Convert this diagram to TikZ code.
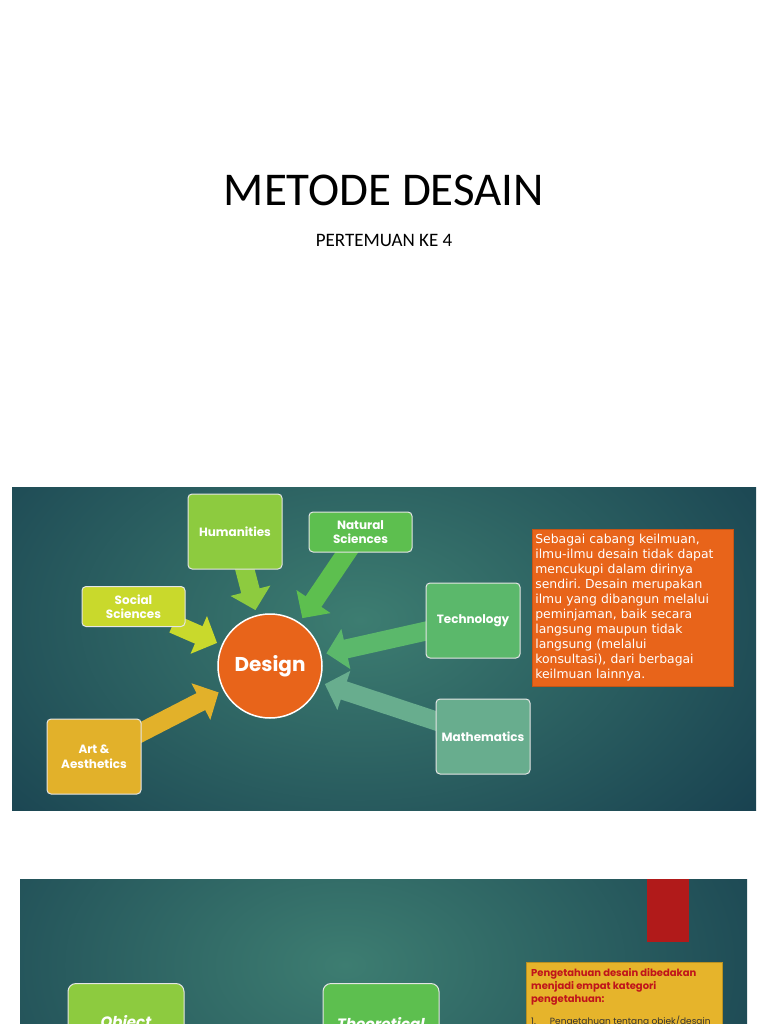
\documentclass[tikz,border=0pt]{standalone}
\usepackage{fontspec}
\setmainfont{Carlito}
\newfontfamily\labelfont{Poppins}
\newfontfamily\notefont{DejaVu Sans}
\usetikzlibrary{positioning}
\usetikzlibrary{arrows.meta}
\frenchspacing

\definecolor{slidedark}{HTML}{143A4C}
\definecolor{slidelight}{HTML}{3D7D71}
\definecolor{humgreen}{HTML}{8DCB3F}
\definecolor{natgreen}{HTML}{5DBF4F}
\definecolor{socyellow}{HTML}{C9D92C}
\definecolor{techgreen}{HTML}{5BB86B}
\definecolor{mathgreen}{HTML}{68AD8E}
\definecolor{artgold}{HTML}{E2B12A}
\definecolor{designorange}{HTML}{E8641A}
\definecolor{tabred}{HTML}{B11A1A}
\definecolor{kindred}{HTML}{C0141B}
\definecolor{kindgold}{HTML}{E6B42B}

\pgfdeclarelayer{back}
\pgfsetlayers{back,main}

\tikzset{
  field/.style = {rectangle, rounded corners=4pt, draw=white!80!gray, line width=1pt, minimum width=94pt, minimum height=75pt, inner sep=2pt, text=white, align=center, font=\labelfont\bfseries\fontsize{12}{14.5}\selectfont},
  flatfield/.style = {field, minimum width=103pt, minimum height=40pt},
  bigfield/.style = {field, rounded corners=8pt, minimum width=116pt, minimum height=80pt, font=\labelfont\bfseries\itshape\fontsize{15}{17}\selectfont},
  core/.style = {circle, draw=white, line width=1.5pt, fill=designorange, minimum size=104pt, inner sep=0pt, text=white, font=\labelfont\bfseries\fontsize{20}{22}\selectfont},
  note/.style = {rectangle, fill=designorange, draw=designorange!85!black, line width=0.6pt, minimum width=201pt, minimum height=157pt, text width=195pt, inner sep=3pt, align=left, text=white, font=\notefont\fontsize{12.4}{15}\selectfont},
  feed/.style = {line width=19pt, -{Triangle[length=20pt, width=40pt]}, shorten >=5pt, shorten <=-8pt},
}

% block arrow from a field into the design circle
\newcommand{\feed}[3]{\begin{pgfonlayer}{back}\draw[feed, #1] (#2) -- (#3) ;\end{pgfonlayer}}

\begin{document}
\begin{tikzpicture}[x=1pt, y=-1pt]

    \useasboundingbox (0,0) rectangle (768,1024) ; %

    % page and slide backgrounds
    \begin{pgfonlayer}{back}
    \fill[white] (0,0) rectangle (768,1024) ; %
    \begin{scope}
      \clip (12,487) rectangle (756,810) ; %
      \shade[inner color=slidelight, outer color=slidedark] (360,620) ellipse (560pt and 360pt) ; %
    \end{scope}
    \begin{scope}
      \clip (20,879) rectangle (747,1024) ; %
      \shade[inner color=slidelight, outer color=slidedark] (345,965) ellipse (560pt and 360pt) ; %
    \end{scope}
    \end{pgfonlayer}

    \node[font=\fontsize{47}{52}\selectfont] (title) at (384,190) {METODE DESAIN} ; %
    \node[font=\fontsize{19}{21}\selectfont] (subtitle) at (384,240) {PERTEMUAN KE 4} ; %

    \node[core] (design) at (270,666) {Design} ; %
    \node[field, fill=humgreen] (humanities) at (235,531.5) {Humanities} ; %
    \node[flatfield, fill=natgreen] (natural) at (360.5,532) {Natural\\Sciences} ; %
    \node[flatfield, fill=socyellow] (social) at (133.5,606.5) {Social\\Sciences} ; %
    \node[field, fill=techgreen] (technology) at (473,620.5) {Technology} ; %
    \node[field, fill=mathgreen] (mathematics) at (483,736.5) {Mathematics} ; %
    \node[field, fill=artgold] (art) at (94,756.5) {Art \&\\Aesthetics} ; %

    \node[note, anchor=north west] (note) at (532,529) {Sebagai cabang keilmuan,\\ilmu-ilmu desain tidak dapat\\mencukupi dalam dirinya\\sendiri. Desain merupakan\\ilmu yang dibangun melalui\\peminjaman, baik secara\\langsung maupun tidak\\langsung (melalui\\konsultasi), dari berbagai\\keilmuan lainnya.} ; %

    \feed{humgreen}{humanities}{design} ; %
    \feed{natgreen}{natural}{design} ; %
    \feed{socyellow}{social}{design} ; %
    \feed{techgreen}{technology}{design} ; %
    \feed{mathgreen}{mathematics}{design} ; %
    \feed{artgold}{art}{design} ; %

    % second slide, cut by the page edge
    \begin{scope}
      \clip (20,879) rectangle (747,1024) ; %
      \node[fill=tabred, minimum width=42pt, minimum height=63pt, anchor=north west] (tab) at (647,879) {} ; %
      \node[bigfield, fill=humgreen, anchor=north] (object) at (126,983) {Object} ; %
      \node[bigfield, fill=natgreen, right=138pt of object] (theory) {Theoretical} ; %
      \node[fill=kindgold, draw=kindgold!80!black, line width=0.6pt, minimum width=196pt, minimum height=90pt, anchor=north west] (kinds) at (526,962) {} ; %
      \node[anchor=north west, align=left, text=kindred, inner sep=0pt, font=\labelfont\bfseries\fontsize{10}{13}\selectfont] (kinds_head) at ([xshift=5pt, yshift=-6pt]kinds.north west) {Pengetahuan desain dibedakan\\menjadi empat kategori\\pengetahuan:} ; %
      \node[below=11pt of kinds_head.south west, anchor=north west, inner sep=0pt, text=black!80, font=\labelfont\fontsize{9}{11}\selectfont] (kinds_one) {1.\hspace{14pt}Pengetahuan tentang objek/desain} ; %
    \end{scope}

\end{tikzpicture}
\end{document}
